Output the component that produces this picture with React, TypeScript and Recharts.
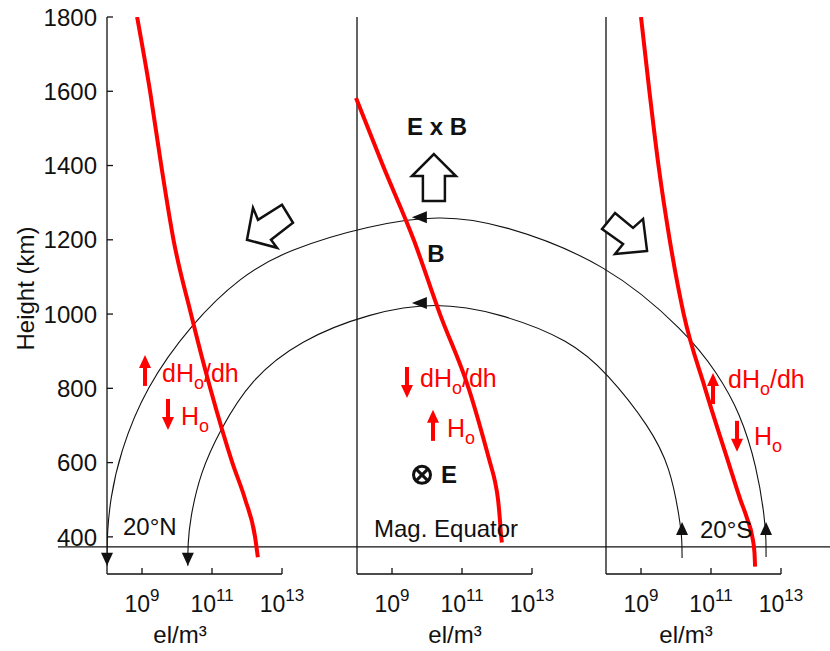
import React from "react";
import {
  ComposedChart,
  Line,
  XAxis,
  YAxis,
  ReferenceLine,
  ReferenceDot,
} from "recharts";

const FONT = "Arial, 'Liberation Sans', Helvetica, sans-serif";
const RED = "#ff0000";
const INK = "#111";

// x is log10(el/m³); the three panels are shifted onto one shared axis
const PANEL_SHIFT = [0, 7.143, 14.257];
const DECADE_MIN = 8;
const DECADE_MAX = 13;
const X_MAX = 28.657;
const TICK_EXP = [9, 11, 13];
const HEIGHT_TICKS = [400, 600, 800, 1000, 1200, 1400, 1600, 1800];
const H_MIN = 300;
const H_MAX = 1800;
const GROUND_H = 373;
const GROUND_X0 = 6.6;

// electron density profiles (height km, log10 el/m³)
const H_20N = [1800, 1600, 1400, 1200, 1000, 800, 600, 500, 400, 345];
const LOGN_20N = [8.86, 9.23, 9.55, 9.9, 10.4, 10.95, 11.58, 11.95, 12.23, 12.31];

const H_EQ = [1582, 1400, 1200, 1000, 800, 600, 550, 500, 450, 400, 385];
const LOGN_EQ = [7.97, 8.74, 9.62, 10.37, 11.19, 11.8, 11.94, 12.03, 12.08, 12.12, 12.14];

const H_20S = [1800, 1600, 1400, 1200, 1000, 800, 600, 500, 450, 400, 360, 320];
const LOGN_20S = [9.0, 9.24, 9.5, 9.82, 10.22, 10.83, 11.5, 11.84, 12.03, 12.18, 12.24, 12.26];

const OUTER_X = [8.0, 8.0, 8.01, 8.09, 8.37, 9.09, 10.43, 11.8, 13.14, 15.51, 17.51, 19.23, 22.29, 24.57, 25.43, 26.09, 26.57, 26.8, 26.83, 26.83];
const OUTER_H = [322, 360, 411, 500, 626, 801, 976, 1100, 1173, 1240, 1267, 1245, 1138, 949, 842, 734, 588, 446, 390, 346];
const INNER_X = [10.31, 10.31, 10.37, 10.66, 11.23, 12.09, 13.51, 15.51, 17.37, 19.23, 21.23, 22.29, 23.51, 24.09, 24.37, 24.43, 24.43];
const INNER_H = [322, 380, 446, 572, 688, 823, 930, 1003, 1033, 1003, 930, 842, 696, 588, 446, 390, 343];

const profile = (hs: number[], logs: number[], shift: number) =>
  hs.map((h, i) => ({ u: logs[i] + shift, h }));
const track = (xs: number[], hs: number[]) => xs.map((u, i) => ({ u, h: hs[i] }));

const X_TICKS = PANEL_SHIFT.flatMap((s) => TICK_EXP.map((e) => e + s));

function DensityTick({ x, y, payload }: any) {
  const v = payload.value;
  const shift = [...PANEL_SHIFT].reverse().find((s) => v - s >= DECADE_MIN - 0.01) ?? 0;
  const exp = Math.round(v - shift);
  return (
    <g>
      <line x1={x} y1={y} x2={x} y2={y - 6} stroke={INK} strokeWidth={1.3} />
      <text x={x} y={y + 38} textAnchor="middle" fontFamily={FONT} fontSize={23} fill={INK}>
        10<tspan dy={-11} fontSize={17}>{exp}</tspan>
      </text>
    </g>
  );
}

function HeightTick({ x, y, payload }: any) {
  return (
    <g>
      <line x1={x} y1={y} x2={x + 6} y2={y} stroke={INK} strokeWidth={1.3} />
      <text x={x - 10} y={y} dy="0.36em" textAnchor="end" fontFamily={FONT} fontSize={24} fill={INK}>
        {payload.value}
      </text>
    </g>
  );
}

// annotation anchored in data space
const note = (key: string, u: number, h: number, draw: (cx: number, cy: number) => React.ReactElement) => (
  <ReferenceDot key={key} x={u} y={h} r={0} ifOverflow="visible" shape={(p: any) => draw(p.cx, p.cy)} />
);

const head = (cx: number, cy: number, dir: "up" | "down" | "left") => {
  const pts =
    dir === "down"
      ? `${cx},${cy} ${cx - 6},${cy - 13} ${cx + 6},${cy - 13}`
      : dir === "up"
      ? `${cx},${cy} ${cx - 6},${cy + 13} ${cx + 6},${cy + 13}`
      : `${cx},${cy} ${cx + 15},${cy - 6} ${cx + 15},${cy + 6}`;
  return <polygon points={pts} fill={INK} />;
};

const redArrow = (cx: number, cy: number, up: boolean) => (
  <g fill={RED}>
    <polygon points={`${cx},${cy} ${cx - 6},${cy + (up ? 13 : -13)} ${cx + 6},${cy + (up ? 13 : -13)}`} />
    <rect x={cx - 2} y={up ? cy + 12 : cy - 31} width={4} height={19} />
  </g>
);

const redText = (cx: number, cy: number, grad: boolean) => (
  <text x={cx} y={cy} fill={RED} fontFamily={FONT} fontSize={25}>
    {grad ? "dH" : "H"}
    <tspan dy={7} fontSize={18}>o</tspan>
    {grad && <tspan dy={-7}>/dh</tspan>}
  </text>
);

const blockArrow = (cx: number, cy: number, rel: number[][]) => (
  <polygon
    points={rel.map(([dx, dy]) => `${cx + dx},${cy + dy}`).join(" ")}
    fill="#fff"
    stroke={INK}
    strokeWidth={2.5}
    strokeLinejoin="miter"
  />
);

const plainText = (cx: number, cy: number, s: string, anchor = "start", bold = false) => (
  <text x={cx} y={cy} textAnchor={anchor as any} fontFamily={FONT} fontSize={24} fontWeight={bold ? 700 : 400} fill={INK}>
    {s}
  </text>
);

export default function App() {
  return (
    <div style={{ position: "absolute", left: 0, top: 0, background: "#fff" }}>
      <ComposedChart width={830} height={651} margin={{ top: 17, right: 0, bottom: 0, left: 0 }}>
        <XAxis
          type="number"
          dataKey="u"
          domain={[DECADE_MIN, X_MAX]}
          ticks={X_TICKS}
          interval={0}
          tick={<DensityTick />}
          axisLine={false}
          tickLine={false}
          tickSize={0}
          tickMargin={0}
          height={77}
          allowDataOverflow
        />
        <YAxis
          type="number"
          domain={[H_MIN, H_MAX]}
          ticks={HEIGHT_TICKS}
          interval={0}
          tick={<HeightTick />}
          tickLine={false}
          tickSize={0}
          tickMargin={0}
          width={107}
          axisLine={{ stroke: INK, strokeWidth: 1.3 }}
          allowDataOverflow
          label={{
            content: (p: any) => (
              <text
                transform={`translate(${p.viewBox.x + 34},${p.viewBox.y + p.viewBox.height / 2 - 7}) rotate(-90)`}
                textAnchor="middle"
                fontFamily={FONT}
                fontSize={24}
                fill={INK}
              >
                Height (km)
              </text>
            ),
          }}
        />

        {PANEL_SHIFT.slice(1).map((s) => (
          <ReferenceLine key={`v${s}`} x={DECADE_MIN + s} stroke={INK} strokeWidth={1.3} />
        ))}
        {PANEL_SHIFT.map((s) => (
          <ReferenceLine
            key={`b${s}`}
            segment={[{ x: DECADE_MIN + s, y: H_MIN }, { x: DECADE_MAX + s, y: H_MIN }]}
            stroke={INK}
            strokeWidth={1.3}
          />
        ))}
        <ReferenceLine
          segment={[{ x: GROUND_X0, y: GROUND_H }, { x: X_MAX, y: GROUND_H }]}
          stroke={INK}
          strokeWidth={1.3}
          ifOverflow="visible"
        />

        <Line data={track(OUTER_X, OUTER_H)} dataKey="h" type="basis" stroke={INK} strokeWidth={1.1} dot={false} activeDot={false} isAnimationActive={false} />
        <Line data={track(INNER_X, INNER_H)} dataKey="h" type="basis" stroke={INK} strokeWidth={1.1} dot={false} activeDot={false} isAnimationActive={false} />

        <Line data={profile(H_20N, LOGN_20N, PANEL_SHIFT[0])} dataKey="h" type="monotone" stroke={RED} strokeWidth={4} dot={false} activeDot={false} isAnimationActive={false} />
        <Line data={profile(H_EQ, LOGN_EQ, PANEL_SHIFT[1])} dataKey="h" type="monotone" stroke={RED} strokeWidth={4} dot={false} activeDot={false} isAnimationActive={false} />
        <Line data={profile(H_20S, LOGN_20S, PANEL_SHIFT[2])} dataKey="h" type="monotone" stroke={RED} strokeWidth={4} dot={false} activeDot={false} isAnimationActive={false} />

        {note("ah1", 8.0, 322, (x, y) => head(x, y, "down"))}
        {note("ah2", 10.31, 322, (x, y) => head(x, y, "down"))}
        {note("ah3", 24.43, 440, (x, y) => head(x, y, "up"))}
        {note("ah4", 26.83, 440, (x, y) => head(x, y, "up"))}
        {note("ah5", 16.71, 1261, (x, y) => head(x, y, "left"))}
        {note("ah6", 16.71, 1030, (x, y) => head(x, y, "left"))}

        {note("exb", 17.43, 1482, (x, y) => plainText(x, y, "E x B", "middle", true))}
        {note("ba1", 17.34, 1431, (x, y) => blockArrow(x, y, [[0, 0], [22, 22], [11, 22], [11, 47], [-11, 47], [-11, 22], [-22, 22]]))}
        {note("ba2", 12.0, 1200, (x, y) => blockArrow(x, y, [[0, 0], [6, -32], [11, -20], [35, -35], [46, -17], [24, 0], [30, 8]]))}
        {note("ba3", 23.43, 1170, (x, y) => blockArrow(x, y, [[0, 0], [-32, 3], [-24, -7], [-45, -22], [-32, -38], [-14, -23], [-4, -32]]))}
        {note("bB", 17.4, 1140, (x, y) => plainText(x, y, "B", "middle", true))}
        {note("eCirc", 17.0, 567, (x, y) => (
          <g stroke={INK} strokeWidth={3} fill="none">
            <circle cx={x} cy={y} r={8.5} />
            <line x1={x - 6} y1={y - 6} x2={x + 6} y2={y + 6} />
            <line x1={x - 6} y1={y + 6} x2={x + 6} y2={y - 6} />
          </g>
        ))}
        {note("eTxt", 17.54, 545, (x, y) => plainText(x, y, "E", "start", true))}

        {note("r1a", 9.086, 890, (x, y) => redArrow(x, y, true))}
        {note("r1b", 9.743, 688, (x, y) => redArrow(x, y, false))}
        {note("r2a", 16.571, 774, (x, y) => redArrow(x, y, false))}
        {note("r2b", 17.314, 742, (x, y) => redArrow(x, y, true))}
        {note("r3a", 25.314, 841, (x, y) => redArrow(x, y, true))}
        {note("r3b", 26.0, 629, (x, y) => redArrow(x, y, false))}
        {note("t1a", 9.571, 817, (x, y) => redText(x, y, true))}
        {note("t1b", 10.114, 701, (x, y) => redText(x, y, false))}
        {note("t2a", 16.943, 804, (x, y) => redText(x, y, true))}
        {note("t2b", 17.714, 669, (x, y) => redText(x, y, false))}
        {note("t3a", 25.743, 801, (x, y) => redText(x, y, true))}
        {note("t3b", 26.486, 648, (x, y) => redText(x, y, false))}

        {note("l1", 8.457, 405, (x, y) => plainText(x, y, "20°N"))}
        {note("l2", 15.629, 400, (x, y) => plainText(x, y, "Mag. Equator"))}
        {note("l3", 24.943, 397, (x, y) => plainText(x, y, "20°S"))}
        {note("u1", 10.086, 114.6, (x, y) => plainText(x, y, "el/m³", "middle"))}
        {note("u2", 17.943, 114.6, (x, y) => plainText(x, y, "el/m³", "middle"))}
        {note("u3", 24.543, 114.6, (x, y) => plainText(x, y, "el/m³", "middle"))}
      </ComposedChart>
    </div>
  );
}
